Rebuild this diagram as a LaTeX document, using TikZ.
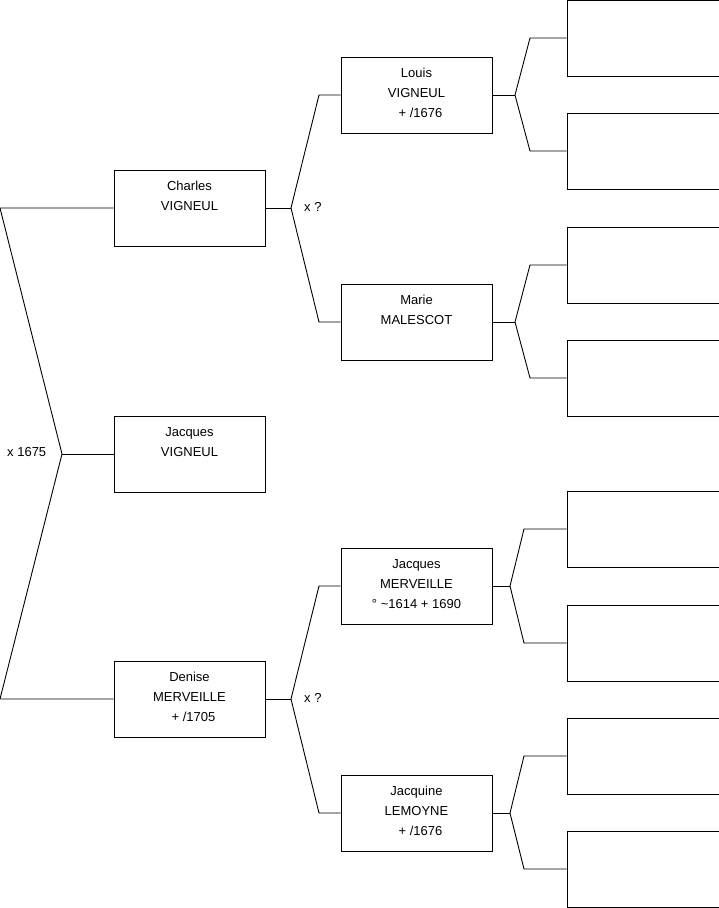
\documentclass[tikz,border=0pt]{standalone}
\usepackage{fontspec}
\setmainfont{Liberation Sans}
\begin{document}
\begin{tikzpicture}[x=1pt,y=-1pt,
  person/.style={draw=black,line width=0.9pt,minimum width=151pt,minimum height=76pt,inner sep=0pt},
  empty/.style={draw=black,line width=0.9pt,minimum width=152pt,minimum height=76pt,inner sep=0pt},
  txt/.style={anchor=north,align=center,inner sep=0pt,font=\fontsize{13}{20}\selectfont},
  lbl/.style={inner sep=0pt,font=\fontsize{13}{14}\selectfont},
  conn/.style={line width=0.9pt}]
\useasboundingbox (0,0) rectangle (719,908);
% generation 1
\node[person] (charles) at (189.5,208) {};
\node[person] (jacquesv) at (189.5,454) {};
\node[person] (denise) at (189.5,699) {};
% generation 2
\node[person] (louis) at (416.5,95) {};
\node[person] (marie) at (416.5,322) {};
\node[person] (jacquesm) at (416.5,586) {};
\node[person] (jacquine) at (416.5,813) {};
% generation 3
\node[empty] (e1) at (643,38) {};
\node[empty] (e2) at (643,151) {};
\node[empty] (e3) at (643,265) {};
\node[empty] (e4) at (643,378) {};
\node[empty] (e5) at (643,529) {};
\node[empty] (e6) at (643,643) {};
\node[empty] (e7) at (643,756) {};
\node[empty] (e8) at (643,869) {};
% texts
\node[txt] (tcharles) at ([yshift=-11.5pt]charles.north) {Charles\\VIGNEUL};
\node[txt] (tjacquesv) at ([yshift=-11.5pt]jacquesv.north) {Jacques\\VIGNEUL};
\node[txt] (tdenise) at ([yshift=-11.5pt]denise.north) {Denise\\MERVEILLE\\\hspace*{8pt}+ /1705};
\node[txt] (tlouis) at ([yshift=-11.5pt]louis.north) {Louis\\VIGNEUL\\\hspace*{8pt}+ /1676};
\node[txt] (tmarie) at ([yshift=-11.5pt]marie.north) {Marie\\MALESCOT};
\node[txt] (tjacquesm) at ([yshift=-11.5pt]jacquesm.north) {Jacques\\MERVEILLE\\° \textasciitilde1614 + 1690};
\node[txt] (tjacquine) at ([yshift=-11.5pt]jacquine.north) {Jacquine\\LEMOYNE\\\hspace*{8pt}+ /1676};
% fork coordinates
\coordinate (a) at (0,208);
\coordinate (b) at (62,454);
\coordinate (c) at (0,699);
\coordinate (f1) at (291,208);
\coordinate (f1u) at (319,95);
\coordinate (f1d) at (319,322);
\coordinate (f2) at (291,699);
\coordinate (f2u) at (319,586);
\coordinate (f2d) at (319,813);
\coordinate (g1) at (515,95);
\coordinate (g1u) at (530,38);
\coordinate (g1d) at (530,151);
\coordinate (g2) at (515,322);
\coordinate (g2u) at (530,265);
\coordinate (g2d) at (530,378);
\coordinate (g3) at (510,586);
\coordinate (g3u) at (524,529);
\coordinate (g3d) at (524,643);
\coordinate (g4) at (510,813);
\coordinate (g4u) at (524,756);
\coordinate (g4d) at (524,869);
% connectors
\draw[conn] (charles.west) -- (a) -- (b) -- (c) -- (denise.west);
\draw[conn] (b) -- (jacquesv.west);
\draw[conn] (charles.east) -- (f1);
\draw[conn] (louis.west) -- (f1u) -- (f1) -- (f1d) -- (marie.west);
\draw[conn] (denise.east) -- (f2);
\draw[conn] (jacquesm.west) -- (f2u) -- (f2) -- (f2d) -- (jacquine.west);
\draw[conn] (louis.east) -- (g1);
\draw[conn] (e1.west) -- (g1u) -- (g1) -- (g1d) -- (e2.west);
\draw[conn] (marie.east) -- (g2);
\draw[conn] (e3.west) -- (g2u) -- (g2) -- (g2d) -- (e4.west);
\draw[conn] (jacquesm.east) -- (g3);
\draw[conn] (e5.west) -- (g3u) -- (g3) -- (g3d) -- (e6.west);
\draw[conn] (jacquine.east) -- (g4);
\draw[conn] (e7.west) -- (g4u) -- (g4) -- (g4d) -- (e8.west);
% marriage labels
\node[lbl,anchor=west] (m1) at (7,452) {x 1675};
\node[lbl,anchor=west] (m2) at (304,207) {x ?};
\node[lbl,anchor=west] (m3) at (304,698) {x ?};
\end{tikzpicture}
\end{document}
